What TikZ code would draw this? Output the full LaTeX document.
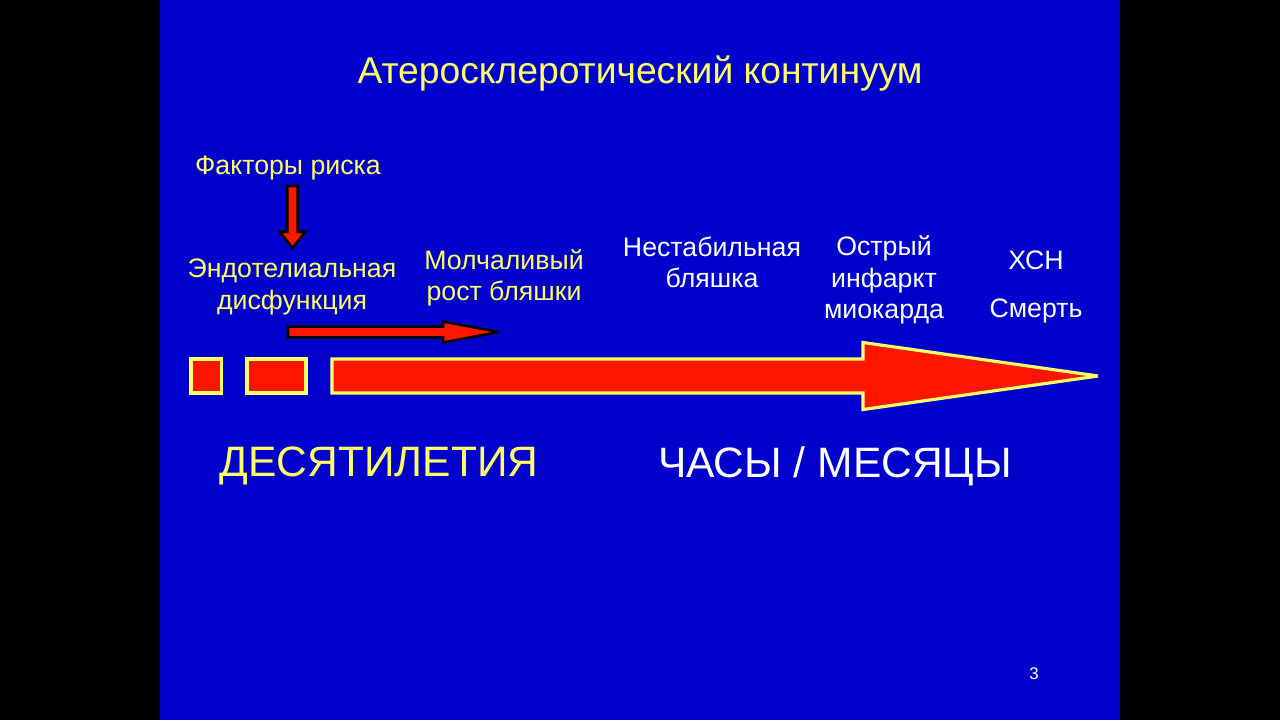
\documentclass[tikz,border=0pt]{standalone}
\usepackage{fontspec}
\setmainfont{Liberation Sans}
\usetikzlibrary{calc, positioning}
\definecolor{slideblue}{HTML}{0000CC}
\definecolor{arrred}{HTML}{FF1500}
\definecolor{lyel}{HTML}{FFFF66}

\tikzset{
  pics/blockarr/.style n args={4}{code={
    \path[pic actions] (0,-#1) -- (#3,-#1) -- (#3,-#2) -- (#4,0)
      -- (#3,#2) -- (#3,#1) -- (0,#1) -- cycle;
  }}
}

\begin{document}
\begin{tikzpicture}[x=0.02cm, y=-0.02cm,
                    yeltext/.style={text=lyel, align=center, font=\fontsize{15.2}{17.8}\selectfont},
                    whitext/.style={text=white, align=center, font=\fontsize{15.2}{17.8}\selectfont},
                    bigtext/.style={align=center, font=\fontsize{24.2}{28}\selectfont},
                    smallarr/.style={fill=arrred, draw=black, line width=1.5, line join=miter, miter limit=4},
                    bigarr/.style={fill=arrred, draw=lyel, line width=1.8, line join=miter, miter limit=4},
                    tick/.style={fill=arrred, draw=lyel, line width=1.8}
                ]
                \useasboundingbox (0,0) rectangle (1280,720);
                \fill[black] (0,0) rectangle (1280,720);
                \fill[slideblue] (160,0) rectangle (1120,720);

                % titre
                \node[text=lyel, font=\fontsize{21.2}{25}\selectfont] (title) at (640,74) {Атеросклеротический континуум};

                % etapes
                \node[yeltext] (risk) at (288,168) {Факторы риска};
                \node[yeltext] (endo) at (292,287) {Эндотелиальная\\дисфункция};
                \node[yeltext] (silent) at (504,278) {Молчаливый\\рост бляшки};
                \node[whitext] (unstab) at (712,262) {Нестабильная\\бляшка};
                \node[whitext] (ami) at (884,280) {Острый\\инфаркт\\миокарда};
                \node[whitext] (chf) at (1036,260) {ХСН};
                \node[whitext] (death) at (1036,311) {Смерть};

                % fleches
                \coordinate (riskout) at (292.5,186);
                \coordinate (endoout) at (288,332);
                \pic[smallarr, rotate=-90] at (riskout) {blockarr={5.2}{13}{45.7}{62}};
                \pic[smallarr] at (endoout) {blockarr={5.5}{10.5}{155}{211}};

                \draw[tick] (191,359) rectangle (221.5,393);
                \draw[tick] (247,359) rectangle (306,393);
                \coordinate (timeline) at (332,376);
                \pic[bigarr] at (timeline) {blockarr={17}{33.5}{531}{766}};

                % echelles
                \node[bigtext, text=lyel] (decades) at (379,466) {ДЕСЯТИЛЕТИЯ};
                \node[bigtext, text=white] (hours) at (835,466) {ЧАСЫ / МЕСЯЦЫ};

                \node[text=white, font=\fontsize{9.6}{11}\selectfont] (pnum) at (1034,674) {3};
            \end{tikzpicture}
\end{document}
